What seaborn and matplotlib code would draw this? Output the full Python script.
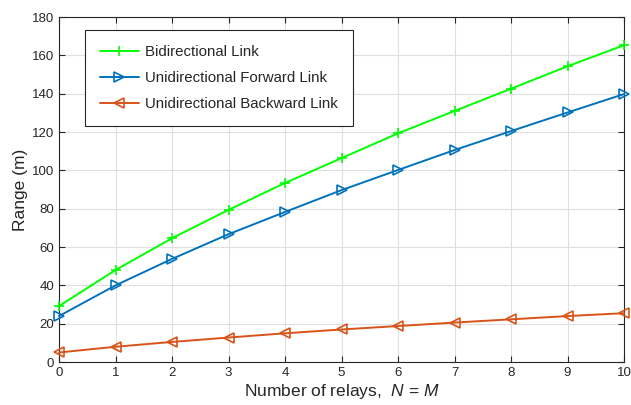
import matplotlib
matplotlib.use("Agg")
import matplotlib.pyplot as plt
import seaborn as sns
import pandas as pd

relays = [0, 1, 2, 3, 4, 5, 6, 7, 8, 9, 10]
bidirectional = [29.2, 48.0, 64.6, 79.4, 93.4, 106.4, 119.3, 131.0, 142.6, 154.3, 165.3]
forward = [24.0, 40.0, 53.8, 66.7, 78.3, 89.7, 100.2, 110.6, 120.5, 130.2, 139.8]
backward = [5.0, 8.0, 10.5, 12.8, 15.0, 17.0, 18.8, 20.6, 22.3, 24.0, 25.5]
series_names = ["Bidirectional Link", "Unidirectional Forward Link", "Unidirectional Backward Link"]
xticks = [0, 1, 2, 3, 4, 5, 6, 7, 8, 9, 10]
yticks = [0, 20, 40, 60, 80, 100, 120, 140, 160, 180]

sns.set_style("white")
plt.rcParams['font.family'] = ['Liberation Sans', 'DejaVu Sans']
plt.rcParams['mathtext.fontset'] = 'custom'
plt.rcParams['mathtext.it'] = 'Liberation Sans:italic'
plt.rcParams['mathtext.rm'] = 'Liberation Sans'

fig = plt.figure(figsize=(6.31, 4.05), dpi=100)
ax = fig.add_axes([0.0935, 0.106, 0.8955, 0.852])

colors = ["#00FF00", "#0072BD", "#D95319"]
markers = ["+", ">", "<"]
for vals, name, c, m in zip([bidirectional, forward, backward], series_names, colors, markers):
    df = pd.DataFrame({"N": relays, "Range": vals})
    sns.lineplot(data=df, x="N", y="Range", ax=ax, color=c, marker=m,
                 markersize=7 if m == "+" else 6.5, markerfacecolor="none",
                 markeredgecolor=c, markeredgewidth=1.2, linewidth=1.4, label=name,
                 clip_on=False, zorder=3)

ax.set_xlim(0, 10)
ax.set_ylim(0, 180)
ax.set_xticks(xticks)
ax.set_yticks(yticks)
ax.tick_params(axis='both', direction='in', length=4, width=0.8, labelsize=9.5,
               colors='#262626', top=True, right=True, bottom=True, left=True)
ax.grid(True, color='#DFDFDF', linewidth=0.8)
ax.set_axisbelow(True)
for s in ax.spines.values():
    s.set_color('#262626')
    s.set_linewidth(0.8)

ax.set_xlabel(r"Number of relays,  $N$ = $M$", fontsize=12.5, color='#262626', labelpad=2)
ax.set_ylabel("Range (m)", fontsize=12.5, color='#262626', labelpad=3)

leg = ax.legend(loc='upper left', bbox_to_anchor=(0.046, 0.962), fontsize=10.8,
                frameon=True, fancybox=False, edgecolor='#262626', framealpha=1,
                borderpad=1.0, labelspacing=0.8, handlelength=2.6, handletextpad=0.4,
                borderaxespad=0)
leg.get_frame().set_linewidth(0.8)
leg.set_zorder(5)

fig.savefig("out.png", dpi=100)
